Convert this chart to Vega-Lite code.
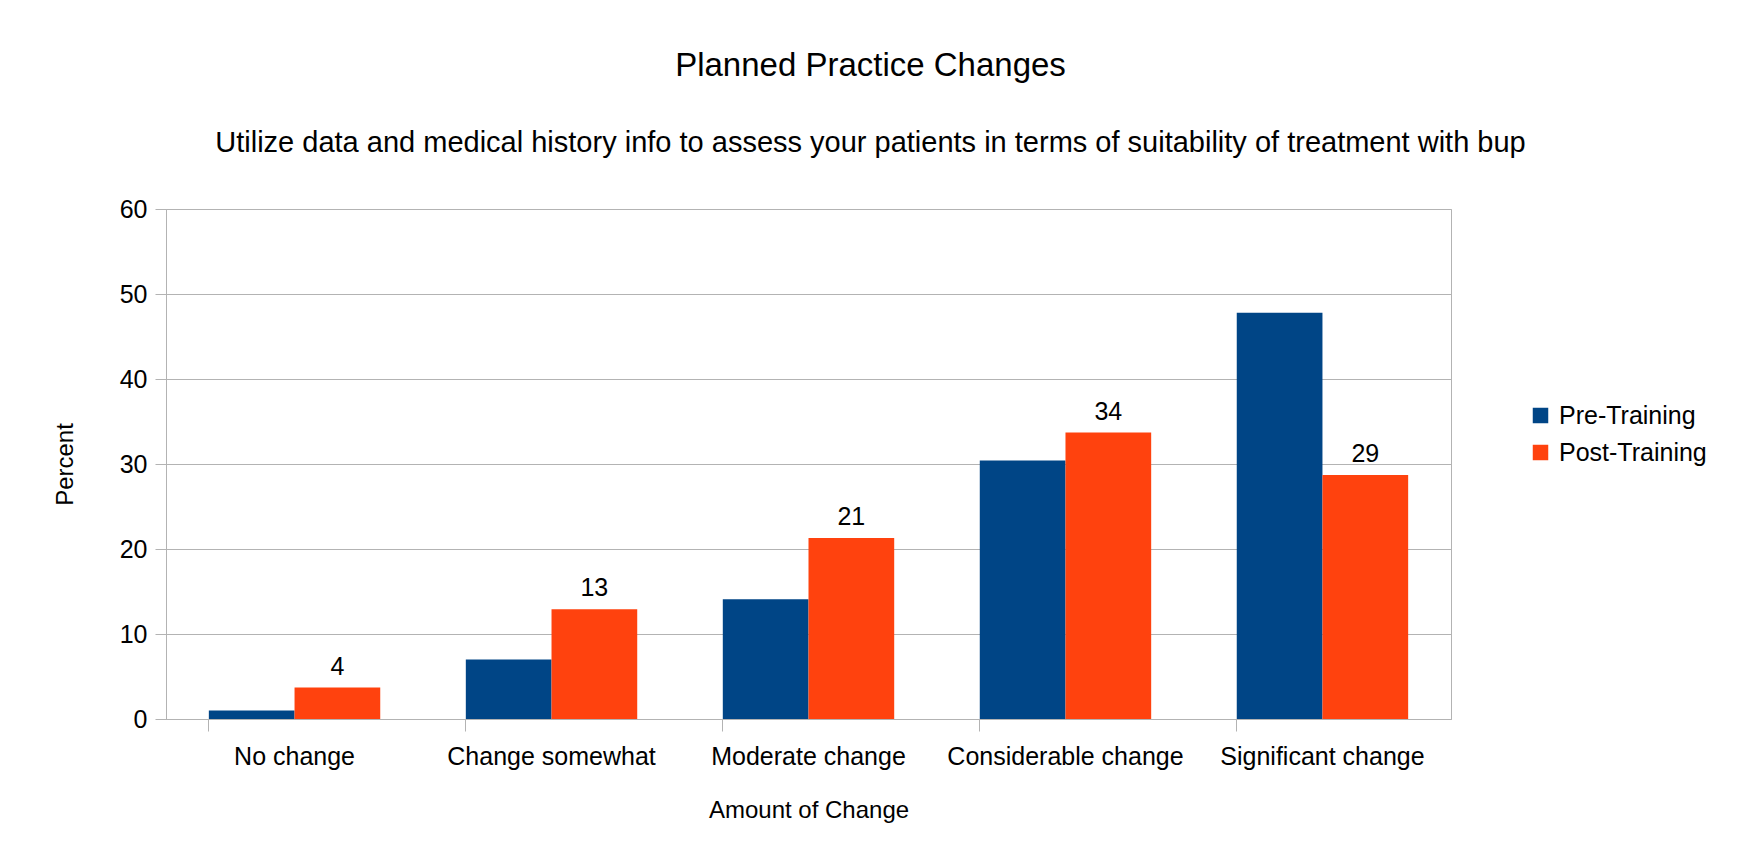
{
  "$schema": "https://vega.github.io/schema/vega-lite/v6.json",
  "autosize": {"type": "none"},
  "width": 1285,
  "height": 510,
  "padding": {"left": 166, "top": 209, "right": 286, "bottom": 141},
  "background": "white",
  "title": {
    "text": "Planned Practice Changes",
    "subtitle": "Utilize data and medical history info to assess your patients in terms of suitability of treatment with bup",
    "anchor": "middle",
    "dx": 62,
    "fontSize": 33,
    "fontWeight": "normal",
    "subtitleFontSize": 29,
    "font": "Liberation Sans",
    "subtitleFont": "Liberation Sans",
    "color": "black",
    "subtitleColor": "black",
    "subtitlePadding": 45.5,
    "offset": 39.5
  },
  "data": {
    "values": [
      {"category": "No change", "series": "Pre-Training", "percent": 1.0},
      {"category": "No change", "series": "Post-Training", "percent": 3.7},
      {"category": "Change somewhat", "series": "Pre-Training", "percent": 7.0},
      {"category": "Change somewhat", "series": "Post-Training", "percent": 12.9},
      {"category": "Moderate change", "series": "Pre-Training", "percent": 14.1},
      {"category": "Moderate change", "series": "Post-Training", "percent": 21.3},
      {"category": "Considerable change", "series": "Pre-Training", "percent": 30.4},
      {"category": "Considerable change", "series": "Post-Training", "percent": 33.7},
      {"category": "Significant change", "series": "Pre-Training", "percent": 47.8},
      {"category": "Significant change", "series": "Post-Training", "percent": 28.7}
    ]
  },
  "encoding": {
    "x": {
      "field": "category",
      "type": "nominal",
      "sort": ["No change", "Change somewhat", "Moderate change", "Considerable change", "Significant change"],
      "scale": {"paddingInner": 0.333, "paddingOuter": 0.1667},
      "axis": {
        "title": "Amount of Change",
        "labelAngle": 0,
        "labelFontSize": 25,
        "labelFont": "Liberation Sans",
        "labelColor": "black",
        "labelPadding": 13,
        "labelLimit": 0,
        "titleFontSize": 24,
        "titleFont": "Liberation Sans",
        "titleFontWeight": "normal",
        "titleColor": "black",
        "titlePadding": 29,
        "tickSize": 12,
        "tickColor": "#b3b3b3",
        "bandPosition": 0,
        "domainColor": "#b3b3b3",
        "grid": false
      }
    },
    "xOffset": {
      "field": "series",
      "type": "nominal",
      "sort": ["Pre-Training", "Post-Training"],
      "scale": {"paddingInner": 0, "paddingOuter": 0}
    },
    "y": {
      "field": "percent",
      "type": "quantitative",
      "scale": {"domain": [0, 60], "nice": false},
      "axis": {
        "title": "Percent",
        "values": [0, 10, 20, 30, 40, 50, 60],
        "labelFontSize": 25,
        "labelFont": "Liberation Sans",
        "labelColor": "black",
        "labelPadding": 8,
        "titleFontSize": 24,
        "titleFont": "Liberation Sans",
        "titleFontWeight": "normal",
        "titleColor": "black",
        "titlePadding": 42,
        "tickSize": 11,
        "tickColor": "#b3b3b3",
        "domainColor": "#b3b3b3",
        "gridColor": "#b3b3b3",
        "grid": true
      }
    }
  },
  "layer": [
    {
      "mark": {"type": "bar"},
      "encoding": {
        "color": {
          "field": "series",
          "type": "nominal",
          "sort": ["Pre-Training", "Post-Training"],
          "scale": {"domain": ["Pre-Training", "Post-Training"], "range": ["#004586", "#ff420e"]},
          "legend": {
            "title": null,
            "orient": "none",
            "legendX": 1362,
            "legendY": 194,
            "symbolType": "square",
            "symbolSize": 240,
            "symbolStrokeWidth": 0,
            "symbolOpacity": 1,
            "labelFontSize": 25,
            "labelFont": "Liberation Sans",
            "labelColor": "black",
            "labelOffset": 6,
            "rowPadding": 11
          }
        }
      }
    },
    {
      "transform": [{"filter": "datum.series === 'Post-Training'"}],
      "mark": {"type": "text", "baseline": "alphabetic", "dy": -13, "fontSize": 25, "font": "Liberation Sans", "color": "black"},
      "encoding": {
        "text": {"field": "percent", "type": "quantitative", "format": ".0f"}
      }
    }
  ],
  "config": {
    "view": {"stroke": "#b3b3b3"}
  }
}
